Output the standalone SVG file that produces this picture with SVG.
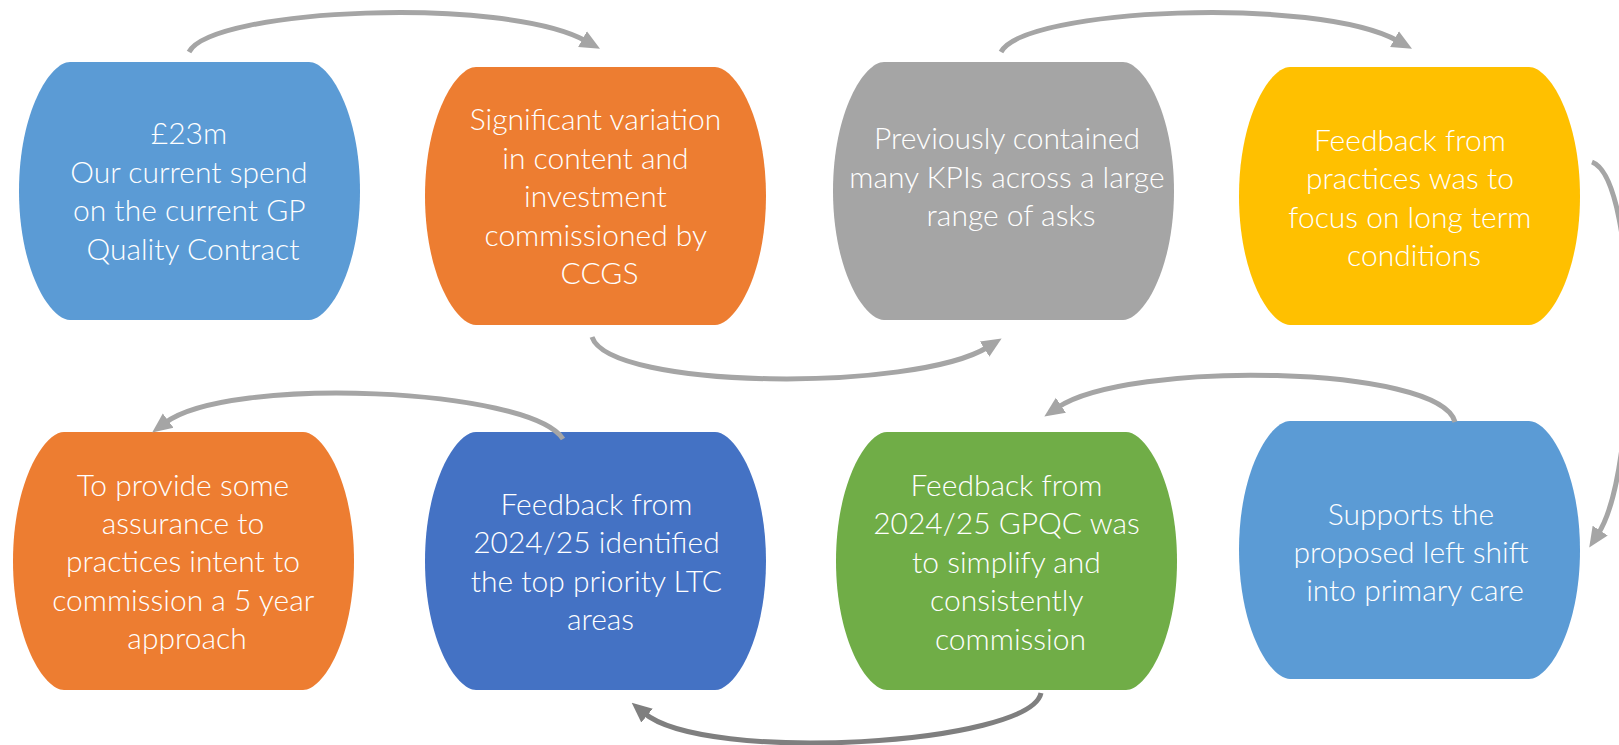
<svg xmlns="http://www.w3.org/2000/svg" xmlns:xlink="http://www.w3.org/1999/xlink" width="1619" height="745" viewBox="0 0 1619 745">
  <style>
    .label { font-family: "Lato", "Open Sans", sans-serif; font-weight: 300; font-size: 30px; fill: #ffffff; text-anchor: middle; }
    .conn { fill: none; stroke: #a5a5a5; stroke-width: 5; }
    .conn.dark { stroke: #7f7f7f; }
  </style>
  <defs>
    <!-- barrel-shaped node outline: flat top/bottom, bulging sides -->
    <path id="barrel" d="M51,0 H290 C310,0 341,50 341,129 C341,208 310,258 290,258 H51 C31,258 0,208 0,129 C0,50 31,0 51,0 Z"/>
    <marker id="head" viewBox="0 0 20 20" markerWidth="20" markerHeight="20" markerUnits="userSpaceOnUse" refX="4" refY="10" orient="auto">
      <path d="M0,1 L20,10 L0,19 Z" fill="#a5a5a5"/>
    </marker>
    <marker id="headDark" viewBox="0 0 20 20" markerWidth="20" markerHeight="20" markerUnits="userSpaceOnUse" refX="4" refY="10" orient="auto">
      <path d="M0,1 L20,10 L0,19 Z" fill="#7f7f7f"/>
    </marker>
  </defs>

  <g id="node-spend">
    <use xlink:href="#barrel" x="19" y="62" fill="#5b9bd5"/>
    <text class="label">
      <tspan x="193" y="144">£23m</tspan>
      <tspan x="193" y="182.5">Our current spend</tspan>
      <tspan x="193" y="221">on the current GP</tspan>
      <tspan x="193" y="259.5">Quality Contract</tspan>
    </text>
  </g>

  <g id="node-variation">
    <use xlink:href="#barrel" x="425" y="67" fill="#ed7d31"/>
    <text class="label">
      <tspan x="599.5" y="130">Significant variation</tspan>
      <tspan x="599.5" y="168.5">in content and</tspan>
      <tspan x="599.5" y="207">investment</tspan>
      <tspan x="599.5" y="245.5">commissioned by</tspan>
      <tspan x="599.5" y="284">CCGS</tspan>
    </text>
  </g>

  <g id="node-kpis">
    <use xlink:href="#barrel" x="833" y="62" fill="#a5a5a5"/>
    <text class="label">
      <tspan x="1011" y="149">Previously contained</tspan>
      <tspan x="1011" y="187.5">many KPIs across a large</tspan>
      <tspan x="1011" y="226">range of asks</tspan>
    </text>
  </g>

  <g id="node-ltc-focus">
    <use xlink:href="#barrel" x="1239" y="67" fill="#ffc000"/>
    <text class="label">
      <tspan x="1414" y="150.5">Feedback from</tspan>
      <tspan x="1414" y="189">practices was to</tspan>
      <tspan x="1414" y="227.5">focus on long term</tspan>
      <tspan x="1414" y="266">conditions</tspan>
    </text>
  </g>

  <g id="node-left-shift">
    <use xlink:href="#barrel" x="1239" y="421" fill="#5b9bd5"/>
    <text class="label">
      <tspan x="1415" y="524.5">Supports the</tspan>
      <tspan x="1415" y="562.5">proposed left shift</tspan>
      <tspan x="1415" y="600.5">into primary care</tspan>
    </text>
  </g>

  <g id="node-simplify">
    <use xlink:href="#barrel" x="836" y="432" fill="#70ad47"/>
    <text class="label">
      <tspan x="1010.5" y="495.5">Feedback from</tspan>
      <tspan x="1010.5" y="534">2024/25 GPQC was</tspan>
      <tspan x="1010.5" y="572.5">to simplify and</tspan>
      <tspan x="1010.5" y="611">consistently</tspan>
      <tspan x="1010.5" y="649.5">commission</tspan>
    </text>
  </g>

  <g id="node-priority-ltc">
    <use xlink:href="#barrel" x="425" y="432" fill="#4472c4"/>
    <text class="label">
      <tspan x="600.5" y="514.5">Feedback from</tspan>
      <tspan x="600.5" y="553">2024/25 identified</tspan>
      <tspan x="600.5" y="591.5">the top priority LTC</tspan>
      <tspan x="600.5" y="630">areas</tspan>
    </text>
  </g>

  <g id="node-assurance">
    <use xlink:href="#barrel" x="13" y="432" fill="#ed7d31"/>
    <text class="label">
      <tspan x="187" y="495.5">To provide some</tspan>
      <tspan x="187" y="534">assurance to</tspan>
      <tspan x="187" y="572">practices intent to</tspan>
      <tspan x="187" y="610.5">commission a 5 year</tspan>
      <tspan x="187" y="649">approach</tspan>
    </text>
  </g>

  <g id="connectors">
    <path class="conn" marker-end="url(#head)" d="M189,52 C212,8 505,-4 586,41"/>
    <path class="conn" marker-end="url(#head)" d="M592,337 C610,390 915,392 988,347"/>
    <path class="conn" marker-end="url(#head)" d="M1001,52 C1024,8 1317,-4 1398,41"/>
    <path class="conn" marker-end="url(#head)" d="M1592,162 C1640,180 1640,470 1598,534"/>
    <path class="conn" marker-end="url(#head)" d="M1455,422 C1440,365 1128,360 1057.6,407.5"/>
    <path class="conn dark" marker-end="url(#headDark)" d="M1041,693 C1030,745 705,764 644,713"/>
    <path class="conn" marker-end="url(#head)" d="M563,439 C530,388 229,375 165,423"/>
  </g>
</svg>
